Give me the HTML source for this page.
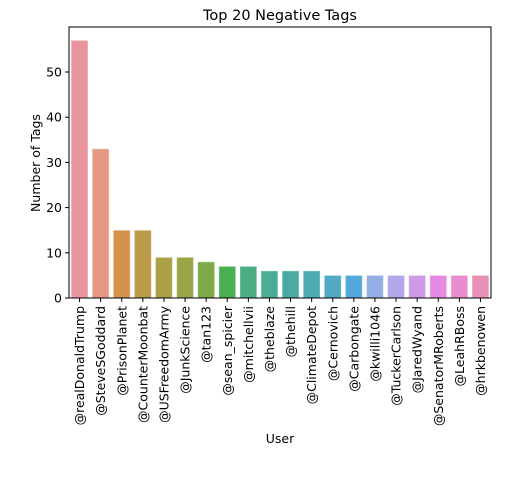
<!DOCTYPE html>
<html><head><meta charset="utf-8"><style>
body{margin:0;background:#fff}
text{font-family:"DejaVu Sans","Liberation Sans",sans-serif;fill:#000}
</style></head><body>
<svg id="chart" width="531" height="472" xmlns="http://www.w3.org/2000/svg">
<rect width="531" height="472" fill="#fff"/>
<text x="280" y="20" font-size="14.5" text-anchor="middle">Top 20 Negative Tags</text>
<g id="bars"></g>
<g id="axes"></g>
<text x="280" y="443" font-size="12.5" text-anchor="middle">User</text>
<text transform="translate(40,163) rotate(-90)" font-size="12.5" text-anchor="middle">Number of Tags</text>
</svg>
<script>
const categories=["@realDonaldTrump","@SteveSGoddard","@PrisonPlanet","@CounterMoonbat","@USFreedomArmy","@JunkScience","@tan123","@sean_spicier","@mitchellvii","@theblaze","@thehill","@ClimateDepot","@Cernovich","@Carbongate","@kwilli1046","@TuckerCarlson","@JaredWyand","@SenatorMRoberts","@LeahRBoss","@hrkbenowen"];
const values=[57,33,15,15,9,9,8,7,7,6,6,6,5,5,5,5,5,5,5,5];
const yTicks=[0,10,20,30,40,50];
const colors=["#e8959f","#e59884","#d5924d","#bc9a4b","#aba048","#9aa548","#7ea948","#4bae51","#4cac83","#4bad95","#4caaa2","#4eabb3","#51a9c3","#54a9dc","#94aee6","#b4a6ea","#ce9ae6","#e788e2","#e88dd0","#e791b7"];
const L=69,R=491,T=27,B=298;
const slot=(R-L)/categories.length;
const y=v=>B-v*(B-72)/50;
const x=i=>L+slot*(i+0.5);
const NS="http://www.w3.org/2000/svg";
const bars=document.getElementById('bars'),axes=document.getElementById('axes');
function mk(tag,attrs,parent){const e=document.createElementNS(NS,tag);for(const k in attrs)e.setAttribute(k,attrs[k]);parent.appendChild(e);return e;}
values.forEach((v,i)=>{
  const r=mk('rect',{x:x(i)-slot*0.4,y:y(v),width:slot*0.8,height:B-y(v),fill:colors[i],stroke:"rgba(255,255,255,0.4)","stroke-width":1},bars);
  
  
  mk('line',{x1:x(i),x2:x(i),y1:B,y2:B+4,stroke:"#000"},axes);
  const t=mk('text',{transform:`translate(${x(i)+4.5},${B+8}) rotate(-90)`,"font-size":"12.5","text-anchor":"end"},axes);
  t.textContent=categories[i];
  
  
});
yTicks.forEach(v=>{
  mk('line',{x1:L-4,x2:L,y1:y(v),y2:y(v),stroke:"#000"},axes);
  const t=mk('text',{x:L-7,y:y(v)+4.5,"font-size":"12.5","text-anchor":"end"},axes);
  t.textContent=v;
  
  
});
const f=mk('rect',{x:L,y:T,width:R-L,height:B-T,fill:"none",stroke:"#000","stroke-width":1},axes);


</script>
</body></html>
